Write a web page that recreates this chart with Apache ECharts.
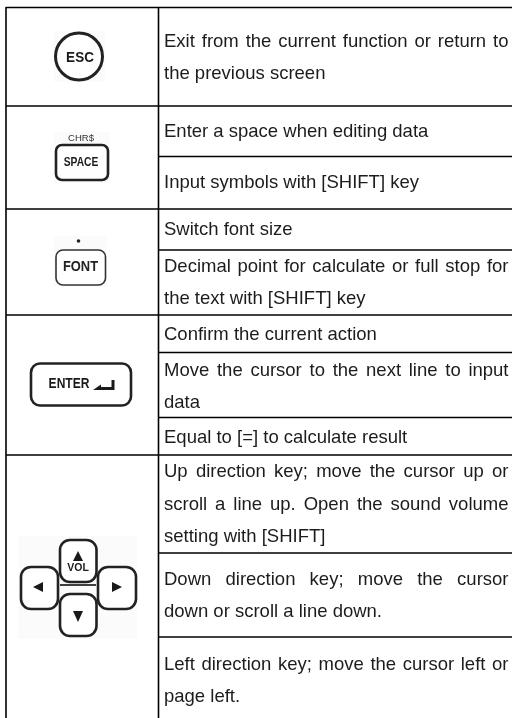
<!DOCTYPE html>
<html>
<head>
<meta charset="utf-8">
<title>Keys</title>
<style>
    html, body { margin: 0; padding: 0; background: #fff; }
    #container { width: 512px; height: 718px; }
</style>
<script src="https://cdn.jsdelivr.net/npm/echarts@6/dist/echarts.min.js"></script>
</head>
<body>
<div id="container"></div>
<script>
// description column, one entry per printed line
var descLines = [
    "Exit from the current function or return to",
    "the previous screen",
    "Enter a space when editing data",
    "Input symbols with [SHIFT] key",
    "Switch font size",
    "Decimal point for calculate or full stop for",
    "the text with [SHIFT] key",
    "Confirm the current action",
    "Move the cursor to the next line to input",
    "data",
    "Equal to [=] to calculate result",
    "Up direction key; move the cursor up or",
    "scroll a line up. Open the sound volume",
    "setting with [SHIFT]",
    "Down direction key; move the cursor",
    "down or scroll a line down.",
    "Left direction key; move the cursor left or",
    "page left."
];
// vertical middle of each line above
var lineMiddles = [42, 74, 132, 183, 230, 267, 299, 335, 371, 403, 438, 472, 505, 537, 580, 612, 665, 697];
// these lines are stretched to the right margin
var justified = [0, 5, 8, 11, 12, 14, 16];

// table rules
var outerRules = [7.5, 106, 209, 315, 455];
var innerRules = [156.5, 250, 352.5, 417.5, 553, 637];

var FONT_NAME = "'Liberation Sans', Arial, sans-serif";
var TEXT_FONT = "18.5px " + FONT_NAME;
var TEXT_LEFT = 164;
var TEXT_RIGHT = 508.5;
var INK = "#1c1c1c";

var measureCtx = document.createElement("canvas").getContext("2d");

function measure(str) {
    measureCtx.font = TEXT_FONT;
    return measureCtx.measureText(str).width;
}

function label(str, x, y) {
    return {
        type: "text", silent: true,
        style: { text: str, x: x, y: y, font: TEXT_FONT, fill: INK, align: "left", verticalAlign: "middle" }
    };
}

function hLine(x1, x2, y) {
    return { type: "line", silent: true, shape: { x1: x1, y1: y, x2: x2, y2: y }, style: { stroke: "#000", lineWidth: 1.6 } };
}

function vLine(x, y1, y2) {
    return { type: "line", silent: true, shape: { x1: x, y1: y1, x2: x, y2: y2 }, style: { stroke: "#000", lineWidth: 1.6 } };
}

function keyBox(x1, y1, x2, y2, r, lw, stroke) {
    return {
        type: "rect", silent: true,
        shape: { x: x1, y: y1, width: x2 - x1, height: y2 - y1, r: r },
        style: { fill: "#fff", stroke: stroke || "#222", lineWidth: lw }
    };
}

// the pasted key pictures sit on a slightly grey patch
function patch(x1, y1, x2, y2) {
    return {
        type: "rect", silent: true,
        shape: { x: x1, y: y1, width: x2 - x1, height: y2 - y1 },
        style: { fill: "#fbfbfb" }
    };
}

function keyText(str, cx, cy, size, sx, color, weight) {
    return {
        type: "text", silent: true, x: cx, y: cy, scaleX: sx,
        style: {
            text: str, x: 0, y: 0, align: "center", verticalAlign: "middle",
            font: (weight || "bold") + " " + size + "px " + FONT_NAME, fill: color || "#1a1a1a"
        }
    };
}

function arrow(points) {
    return { type: "polygon", silent: true, shape: { points: points }, style: { fill: "#1a1a1a" } };
}

function tablePart() {
    var out = [];
    outerRules.forEach(function(y) { out.push(hLine(6, 512, y)); });
    innerRules.forEach(function(y) { out.push(hLine(158.5, 512, y)); });
    out.push(vLine(6, 7, 718));
    out.push(vLine(158.5, 7, 718));
    return out;
}

function textPart() {
    var out = [];
    descLines.forEach(function(line, i) {
        var y = lineMiddles[i];
        if (justified.indexOf(i) < 0) {
            out.push(label(line, TEXT_LEFT, y));
            return;
        }
        // word by word, the gaps share what is left of the column
        var words = line.split(" ");
        var used = 0;
        words.forEach(function(w) { used += measure(w); });
        var gap = (TEXT_RIGHT - TEXT_LEFT - used) / (words.length - 1);
        var x = TEXT_LEFT;
        words.forEach(function(w) {
            out.push(label(w, x, y));
            x += measure(w) + gap;
        });
    });
    return out;
}

function iconPart() {
    return [
        // ESC
        patch(54, 31, 105, 82),
        { type: "circle", silent: true, shape: { cx: 79, cy: 56.5, r: 23.5 }, style: { fill: "#fff", stroke: "#222", lineWidth: 3 } },
        keyText("ESC", 80, 57.5, 15, 0.9),
        // SPACE
        patch(54, 132, 110, 183),
        keyText("CHR$", 81, 138, 9.5, 1, "#333", "normal"),
        keyBox(56, 145, 108, 180, 6, 2.6),
        keyText("SPACE", 81, 162.5, 13.5, 0.76),
        // FONT
        patch(54, 236, 107, 287),
        { type: "circle", silent: true, shape: { cx: 78.5, cy: 241, r: 1.8 }, style: { fill: "#222" } },
        keyBox(56, 250, 105.5, 285, 7, 1.6, "#333"),
        keyText("FONT", 80.5, 266.5, 15, 0.86, "#222"),
        // ENTER
        keyBox(31, 363.5, 131, 405.5, 9, 2.6),
        keyText("ENTER", 69, 384.5, 14, 0.86),
        arrow([[93, 390], [101, 384.5], [101, 387], [111.5, 387], [111.5, 380], [114.5, 380], [114.5, 390]]),
        // direction keys
        patch(18, 536, 137, 639),
        hLine(60, 96, 585),
        keyBox(21, 567, 58, 609, 10, 2.6),
        keyBox(98, 567, 136, 609, 10, 2.6),
        keyBox(60, 540, 96.5, 582, 10, 2.6),
        keyBox(60, 594, 96.5, 636, 10, 2.6),
        arrow([[78, 551], [83, 561], [73, 561]]),
        keyText("VOL", 78, 568, 10.5, 1),
        arrow([[33, 587], [43, 582], [43, 592]]),
        arrow([[122, 587], [112, 582], [112, 592]]),
        arrow([[78, 622], [73, 611], [83, 611]])
    ];
}

$init();

function $init() {
    var dom = document.getElementById("container");
    var myChart = echarts.init(dom, null, { renderer: "canvas" });
    var elements = tablePart().concat(textPart(), iconPart());
    myChart.setOption({
        animation: false,
        backgroundColor: "#fff",
        graphic: { elements: elements }
    });
}
</script>
</body>
</html>
